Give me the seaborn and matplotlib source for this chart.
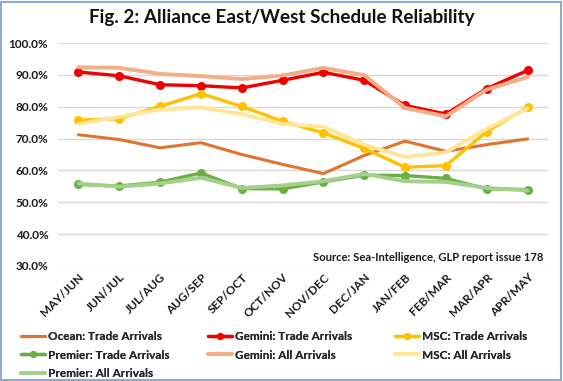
import matplotlib
matplotlib.use("Agg")
import matplotlib.pyplot as plt
import seaborn as sns
import pandas as pd
from matplotlib.patches import Rectangle
from matplotlib.lines import Line2D
from matplotlib.ticker import FuncFormatter, MultipleLocator

months = ["MAY/JUN", "JUN/JUL", "JUL/AUG", "AUG/SEP", "SEP/OCT", "OCT/NOV",
          "NOV/DEC", "DEC/JAN", "JAN/FEB", "FEB/MAR", "MAR/APR", "APR/MAY"]

ocean_trade   = [71.2, 69.7, 67.1, 68.7, 65.0, 61.9, 59.0, 64.7, 69.2, 66.0, 68.1, 69.9]
gemini_trade  = [90.9, 89.7, 86.9, 86.6, 85.9, 88.3, 90.8, 88.3, 80.4, 77.7, 85.7, 91.4]
msc_trade     = [75.8, 76.2, 80.1, 84.1, 80.1, 75.4, 71.8, 66.9, 61.0, 61.5, 72.2, 79.8]
premier_trade = [55.6, 55.1, 56.3, 59.2, 54.3, 54.2, 56.4, 58.5, 58.4, 57.5, 54.2, 54.0]
gemini_all    = [92.4, 92.2, 90.3, 89.6, 88.7, 89.8, 92.2, 89.9, 79.6, 77.0, 85.4, 89.3]
msc_all       = [74.6, 76.8, 79.1, 79.8, 77.7, 74.6, 73.7, 68.1, 64.2, 65.7, 73.1, 79.4]
premier_all   = [55.9, 54.9, 55.9, 57.7, 54.5, 55.3, 56.6, 58.9, 56.6, 56.4, 54.5, 53.7]

series = [
    ("Ocean: Trade Arrivals", ocean_trade, "#E2732F", None, 2.2),
    ("Gemini: Trade Arrivals", gemini_trade, "#F00000", "o", 2.4),
    ("MSC: Trade Arrivals", msc_trade, "#FFC000", "o", 2.4),
    ("Premier: Trade Arrivals", premier_trade, "#6AAE45", "o", 2.4),
    ("Gemini: All Arrivals", gemini_all, "#F4AE86", None, 2.8),
    ("MSC: All Arrivals", msc_all, "#FFE699", None, 2.8),
    ("Premier: All Arrivals", premier_all, "#A5D08A", None, 2.8),
]

sns.set_theme(style="white")
plt.rcParams['font.family'] = ['Lato', 'DejaVu Sans']
plt.rcParams['font.weight'] = 'bold'

fig = plt.figure(figsize=(5.63, 3.81), dpi=100)
ax = fig.add_axes([58/563, 1-266/381, 490/563, 223/381])

handles = {}
for name, vals, color, marker, lw in series:
    df = pd.DataFrame({"month": months, "value": vals})
    sns.lineplot(data=df, x="month", y="value", ax=ax, color=color, lw=lw,
                 marker=marker, markersize=6.5 if marker else 0,
                 markeredgewidth=0, sort=False)
    handles[name] = Line2D([], [], color=color, lw=lw, marker=marker,
                           markersize=5 if marker else 0, markeredgewidth=0)

ax.set_ylim(30, 100)
ax.set_xlim(-0.5, len(months) - 0.5)
ax.yaxis.set_major_locator(MultipleLocator(10))
ax.yaxis.set_major_formatter(FuncFormatter(lambda v, p: f"{v:.1f}%"))
ax.grid(axis='y', color='#D9D9D9', lw=1.0)
ax.set_axisbelow(True)
for s in ax.spines.values():
    s.set_visible(False)
ax.set_xlabel("")
ax.set_ylabel("")
ax.tick_params(axis='x', length=0, pad=4, labelsize=8.5, colors='#1a1a1a')
ax.tick_params(axis='y', length=0, pad=7, labelsize=8.5, colors='#1a1a1a')
ax.set_xticks(range(len(months)))
ax.set_xticklabels(months, rotation=45, ha='right', rotation_mode='anchor',
                   fontweight='bold')
for lab in ax.get_yticklabels():
    lab.set_fontweight('bold')

ax.text(0.99, 0.012, "Source: Sea-Intelligence, GLP report issue 178",
        transform=ax.transAxes, ha='right', va='bottom', fontsize=8.1,
        fontweight='bold', color='#1a1a1a')

fig.text(0.5, 1-17/381, "Fig. 2: Alliance East/West Schedule Reliability",
         ha='center', va='center', fontsize=13.6, fontweight='bold',
         color='#111111')

columns = [
    (21, ["Ocean: Trade Arrivals", "Premier: Trade Arrivals", "Premier: All Arrivals"]),
    (208, ["Gemini: Trade Arrivals", "Gemini: All Arrivals"]),
    (395, ["MSC: Trade Arrivals", "MSC: All Arrivals"]),
]
for x0, names in columns:
    leg = fig.legend([handles[n] for n in names], names, ncol=1, loc='upper left',
                     bbox_to_anchor=(x0/563, 1-331/381), frameon=False,
                     prop={'size': 8.5, 'weight': 'bold'}, handlelength=2.0,
                     handletextpad=0.25, labelspacing=0.64,
                     borderaxespad=0, borderpad=0)
    fig.add_artist(leg)

fig.patches.append(Rectangle((0.002, 0.003), 0.994, 0.993, transform=fig.transFigure,
                             fill=False, edgecolor='#8EAADB', lw=1.5))

fig.savefig("out.png", dpi=100)
